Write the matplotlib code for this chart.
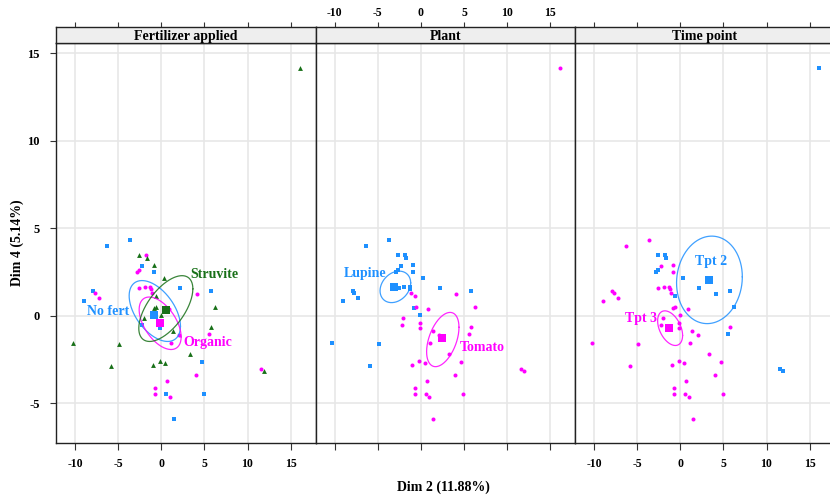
# ============================================================
# MFA individual factor map: Dim 2 vs Dim 4, three panels
# (fertilizer applied / plant / time point)
# ============================================================

import numpy as np
import matplotlib
matplotlib.use("Agg")
import matplotlib.pyplot as plt

plt.rcParams["font.family"] = ["Liberation Serif", "DejaVu Serif"]
plt.rcParams["font.weight"] = "bold"
plt.rcParams["axes.unicode_minus"] = False


# -----------------------------
# 1. Individuals (coordinates)
# -----------------------------
x_dim2 = [-2.65, -1.80, -1.72, -2.30, -2.65, -2.88, -0.87, -0.87, 0.25, 2.19,
          5.76, -2.58, -1.92, -1.30, -1.22, -1.14, -0.64, 4.13, -0.83, -0.60,
          0.83, 6.26, -0.06, -2.07, -2.23, -0.14, -0.14, 1.37, 2.07, 1.10,
          5.76, 5.56, -6.34, -3.70, -7.93, -7.77, -7.30, -9.05, -10.33, -4.90,
          -5.91, 3.27, 4.71, -0.21, 0.45, -0.99, 3.97, 0.68, -0.72, -0.72,
          0.56, 0.95, 4.90, 1.45, 11.61, 11.92, 16.13]

y_dim4 = [3.46, 3.46, 3.30, 2.85, 2.64, 2.49, 2.89, 2.50, 2.18, 1.61,
          1.42, 1.59, 1.65, 1.65, 1.50, 1.32, 1.13, 1.23, 0.45, 0.52,
          0.41, 0.49, 0.03, -0.12, -0.54, -0.41, -0.70, -0.89, -1.11, -1.53,
          -0.64, -1.02, 3.97, 4.35, 1.44, 1.30, 1.04, 0.87, -1.53, -1.63,
          -2.87, -2.16, -2.64, -2.60, -2.70, -2.83, -3.40, -3.74, -4.12, -4.50,
          -4.49, -4.62, -4.45, -5.91, -3.06, -3.17, 14.16]

fert_group = ["Struvite", "Organic", "Struvite", "No fert", "Organic", "Organic",
              "Struvite", "No fert", "Struvite", "No fert", "No fert", "Organic",
              "Organic", "Organic", "Organic", "Organic", "Struvite", "Organic",
              "Struvite", "Struvite", "Organic", "Struvite", "Struvite", "Struvite",
              "No fert", "Organic", "No fert", "Struvite", "Organic", "Organic",
              "Struvite", "Organic", "No fert", "No fert", "No fert", "Organic",
              "Organic", "No fert", "Struvite", "Struvite", "Struvite", "Struvite",
              "No fert", "Struvite", "Struvite", "Struvite", "Organic", "Organic",
              "Organic", "Organic", "No fert", "Organic", "No fert", "No fert",
              "Organic", "Struvite", "Struvite"]

plant_group = ["Lupine"] * 15 + ["Tomato", "Tomato", "Tomato", "Lupine", "Tomato",
               "Tomato", "Tomato", "Lupine"] + ["Tomato"] * 9 + ["Lupine"] * 9 + \
              ["Tomato"] * 16

time_group = ["Tpt 2", "Tpt 2", "Tpt 2", "Tpt 3", "Tpt 2", "Tpt 2", "Tpt 3", "Tpt 3",
              "Tpt 2", "Tpt 2", "Tpt 2", "Tpt 3", "Tpt 3", "Tpt 3", "Tpt 3", "Tpt 3",
              "Tpt 2", "Tpt 2", "Tpt 3", "Tpt 3", "Tpt 3", "Tpt 2", "Tpt 3", "Tpt 3",
              "Tpt 3", "Tpt 3", "Tpt 3", "Tpt 3", "Tpt 3", "Tpt 3", "Tpt 3", "Tpt 2"] + \
             ["Tpt 3"] * 22 + ["Tpt 2", "Tpt 2", "Tpt 2"]


# -----------------------------
# 2. Group centres and confidence ellipses
#    ellipse = centre x, centre y, half-width, half-height, tilt (correlation)
# -----------------------------
fert_levels = ["No fert", "Organic", "Struvite"]
fert_mean_x = [-0.81, -0.15, 0.55]
fert_mean_y = [0.03, -0.39, 0.31]
fert_ell = [(-0.77, 0.27, 2.98, 1.74, -0.50),
            (-0.15, -0.43, 2.44, 1.50, -0.52),
            (0.51, 0.41, 3.14, 1.88, 0.60)]

plant_levels = ["Lupine", "Tomato"]
plant_mean_x = [-3.08, 2.46]
plant_mean_y = [1.65, -1.30]
plant_ell = [(-2.97, 1.65, 1.78, 0.90, 0.25),
             (2.54, -1.36, 1.88, 1.55, 0.45)]

time_levels = ["Tpt 2", "Tpt 3"]
time_mean_x = [3.37, -1.28]
time_mean_y = [2.07, -0.70]
time_ell = [(3.37, 2.05, 3.82, 2.50, 0.07),
            (-1.20, -0.71, 1.45, 0.99, -0.42)]

x_ticks = [-10, -5, 0, 5, 10, 15]
y_ticks = [-5, 0, 5, 10, 15]


# -----------------------------
# 3. Styles and layout
# -----------------------------
colors = ["#1E90FF", "#FF00FF", "#187018"]
markers = ["s", "o", "^"]
small_ms = [3.1, 2.9, 3.5]

panels = [
    ("Fertilizer applied", fert_group, fert_levels, fert_mean_x, fert_mean_y, fert_ell,
     [(-6.2, 0.22), (5.35, -1.53), (6.2, 2.35)]),
    ("Plant", plant_group, plant_levels, plant_mean_x, plant_mean_y, plant_ell,
     [(-6.5, 2.41), (7.1, -1.80)]),
    ("Time point", time_group, time_levels, time_mean_x, time_mean_y, time_ell,
     [(3.55, 3.11), (-4.55, -0.13)]),
]

W, H = 830, 497
panel_left = [56, 315.5, 575]
panel_w = 259.5
panel_top, panel_bottom = 43.3, 443.3
strip_h = 16
xlim = (-12.25, 17.9)
ylim = (-7.29, 15.57)


def ellipse_xy(cx, cy, hx, hy, r):
    t = np.linspace(0, 2 * np.pi, 300)
    ex = cx + hx * np.cos(t)
    ey = cy + hy * (r * np.cos(t) + np.sqrt(1 - r ** 2) * np.sin(t))
    return ex, ey


# -----------------------------
# 4. Draw
# -----------------------------
fig = plt.figure(figsize=(W / 100, H / 100), dpi=100)

xs = np.array(x_dim2)
ys = np.array(y_dim4)

for i, (title, groups, levels, mx, my, ells, lab_pos) in enumerate(panels):
    left = panel_left[i] / W
    ax = fig.add_axes([left, (H - panel_bottom) / H, panel_w / W,
                       (panel_bottom - panel_top) / H])
    ax.set_xlim(*xlim)
    ax.set_ylim(*ylim)
    ax.set_xticks(x_ticks)
    ax.set_yticks(y_ticks)
    ax.set_xticklabels([str(t) for t in x_ticks])
    ax.set_yticklabels([str(t) for t in y_ticks])
    ax.grid(True, color="#E6E6E6", linewidth=1.1)
    ax.set_axisbelow(True)
    for sp in ax.spines.values():
        sp.set_color("#222222")
        sp.set_linewidth(1.0)

    ax.tick_params(axis="x", direction="out", length=4.8, width=0.8,
                   color="#333333", labelsize=8.5, pad=6,
                   labelbottom=(i != 1), top=False)
    ax.tick_params(axis="y", direction="out", length=4.3, width=0.8,
                   color="#333333", labelsize=9, pad=7.5,
                   left=(i == 0), labelleft=(i == 0), right=False)

    g = np.array(groups)
    for k, lev in enumerate(levels):
        sel = g == lev
        ax.plot(xs[sel], ys[sel], linestyle="none", marker=markers[k],
                color=colors[k], markersize=small_ms[k], markeredgewidth=0,
                zorder=3)

    for k, lev in enumerate(levels):
        ex, ey = ellipse_xy(*ells[k])
        ax.plot(ex, ey, color=colors[k], linewidth=0.9, alpha=0.85, zorder=4)
        ax.plot(mx[k], my[k], linestyle="none", marker="s", color=colors[k],
                markersize=6.3, markeredgewidth=0, zorder=5)
        ax.text(lab_pos[k][0], lab_pos[k][1], lev, color=colors[k],
                fontsize=10, fontweight="bold", ha="center", va="center",
                zorder=6)

    # strip with the factor name, top ticks drawn above it
    sax = fig.add_axes([left, (H - panel_top) / H, panel_w / W, strip_h / H])
    sax.set_facecolor("#EEEEEE")
    sax.set_xlim(*xlim)
    sax.set_ylim(0, 1)
    sax.set_yticks([])
    sax.set_xticks(x_ticks)
    sax.set_xticklabels([str(t) for t in x_ticks])
    sax.tick_params(axis="x", direction="out", length=3.8, width=0.8,
                    color="#333333", labelsize=8.5, pad=2.5,
                    top=True, bottom=False, labeltop=(i == 1),
                    labelbottom=False)
    for sp in sax.spines.values():
        sp.set_color("#222222")
        sp.set_linewidth(1.0)
    sax.text(0.5, 0.45, title, transform=sax.transAxes, ha="center",
             va="center", fontsize=10, fontweight="bold", color="black")

fig.text(443 / W, 1 - 487 / H, "Dim 2 (11.88%)", ha="center", va="center",
         fontsize=10, fontweight="bold")
fig.text(17 / W, 1 - 243 / H, "Dim 4 (5.14%)", ha="center", va="center",
         rotation=90, fontsize=10, fontweight="bold")

fig.savefig("out.png", dpi=100)
